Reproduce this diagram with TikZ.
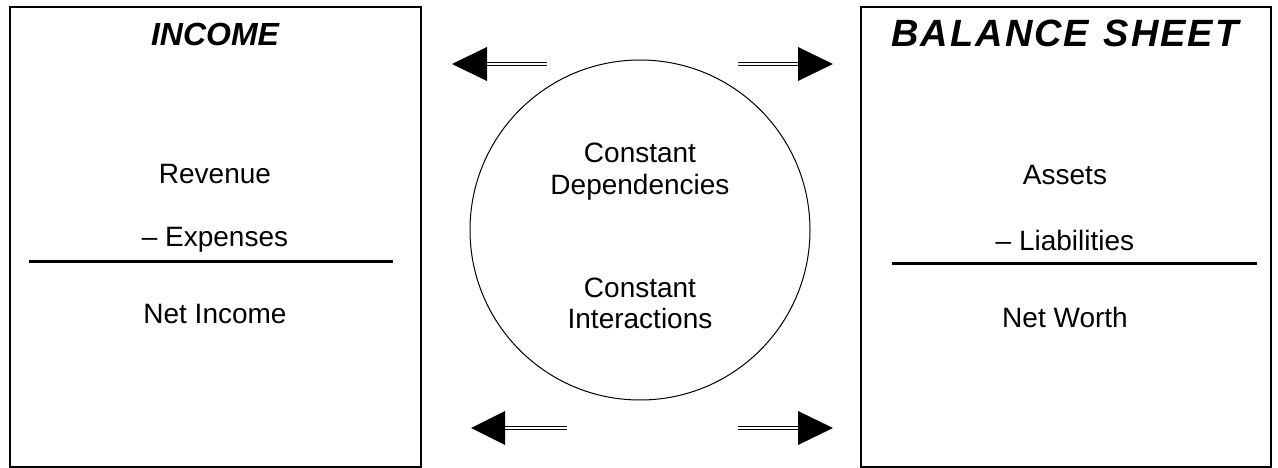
\documentclass[tikz,border=0pt]{standalone}
\usepackage{fontspec}
\setmainfont{Liberation Sans}
\newcommand{\tk}{\kern2pt}
\begin{document}
\begin{tikzpicture}[x=1pt,y=-1pt,
  frame/.style={draw=black,line width=2pt},
  body/.style={font=\fontsize{28}{32}\selectfont,anchor=base,inner sep=0pt},
  title/.style={font=\fontsize{32}{36}\selectfont\bfseries\itshape,anchor=base,inner sep=0pt},
  bigtitle/.style={font=\fontsize{38}{42}\selectfont\bfseries\itshape,anchor=base,inner sep=0pt},
  rule/.style={draw=black,line width=3pt},
  shaft/.style={draw=black,line width=1.3pt,double=white,double distance=2pt},
  head/.style={fill=black,draw=none}]
\useasboundingbox (0,0) rectangle (1278,468);
% boxes
\node[frame,minimum width=411pt,minimum height=460pt,anchor=north west,inner sep=0pt] (inc) at (9,6) {};
\node[frame,minimum width=410pt,minimum height=460pt,anchor=north west,inner sep=0pt] (bal) at (860,6) {};
% titles
\node[title] (inct) at (215,46) {INCOME};
\node[bigtitle] (balt) at (1065,47) {B\tk A\tk L\tk A\tk N\tk C\tk E\tk{} \tk S\tk H\tk E\tk E\tk T};
% left content
\node[body] (rev) at (215,184) {Revenue};
\node[body] (exp) at (215,246) {– Expenses};
\coordinate (l1) at (29,261);
\coordinate (l2) at (393,261);
\draw[rule] (l1) -- (l2);
\node[body] (ni) at (215,323) {Net Income};
% right content
\node[body] (ast) at (1065,185) {Assets};
\node[body] (lia) at (1065,251) {– Liabilities};
\coordinate (r1) at (892,263);
\coordinate (r2) at (1257,263);
\draw[rule] (r1) -- (r2);
\node[body] (nw) at (1065,327) {Net Worth};
% circle
\node[draw=black,line width=1pt,circle,minimum size=340pt,inner sep=0pt] (circ) at (640,230) {};
\node[body] (c1) at (640,163) {Constant};
\node[body] (c2) at (640,194) {Dependencies};
\node[body] (c3) at (640,297) {Constant};
\node[body] (c4) at (640,328) {Interactions};
% arrows
\coordinate (a1s) at (547,64); \coordinate (a1b) at (487,64); \coordinate (a1t) at (452,64);
\draw[shaft] (a1s) -- (a1b);
\fill[head] (a1t) -- ([yshift=-17pt]a1b) -- ([yshift=17pt]a1b) -- cycle;
\coordinate (a2s) at (738,64); \coordinate (a2b) at (798,64); \coordinate (a2t) at (833,64);
\draw[shaft] (a2s) -- (a2b);
\fill[head] (a2t) -- ([yshift=-17pt]a2b) -- ([yshift=17pt]a2b) -- cycle;
\coordinate (a3s) at (567,428); \coordinate (a3b) at (505,428); \coordinate (a3t) at (471,428);
\draw[shaft] (a3s) -- (a3b);
\fill[head] (a3t) -- ([yshift=-17pt]a3b) -- ([yshift=17pt]a3b) -- cycle;
\coordinate (a4s) at (738,428); \coordinate (a4b) at (798,428); \coordinate (a4t) at (833,428);
\draw[shaft] (a4s) -- (a4b);
\fill[head] (a4t) -- ([yshift=-17pt]a4b) -- ([yshift=17pt]a4b) -- cycle;
\end{tikzpicture}
\end{document}
